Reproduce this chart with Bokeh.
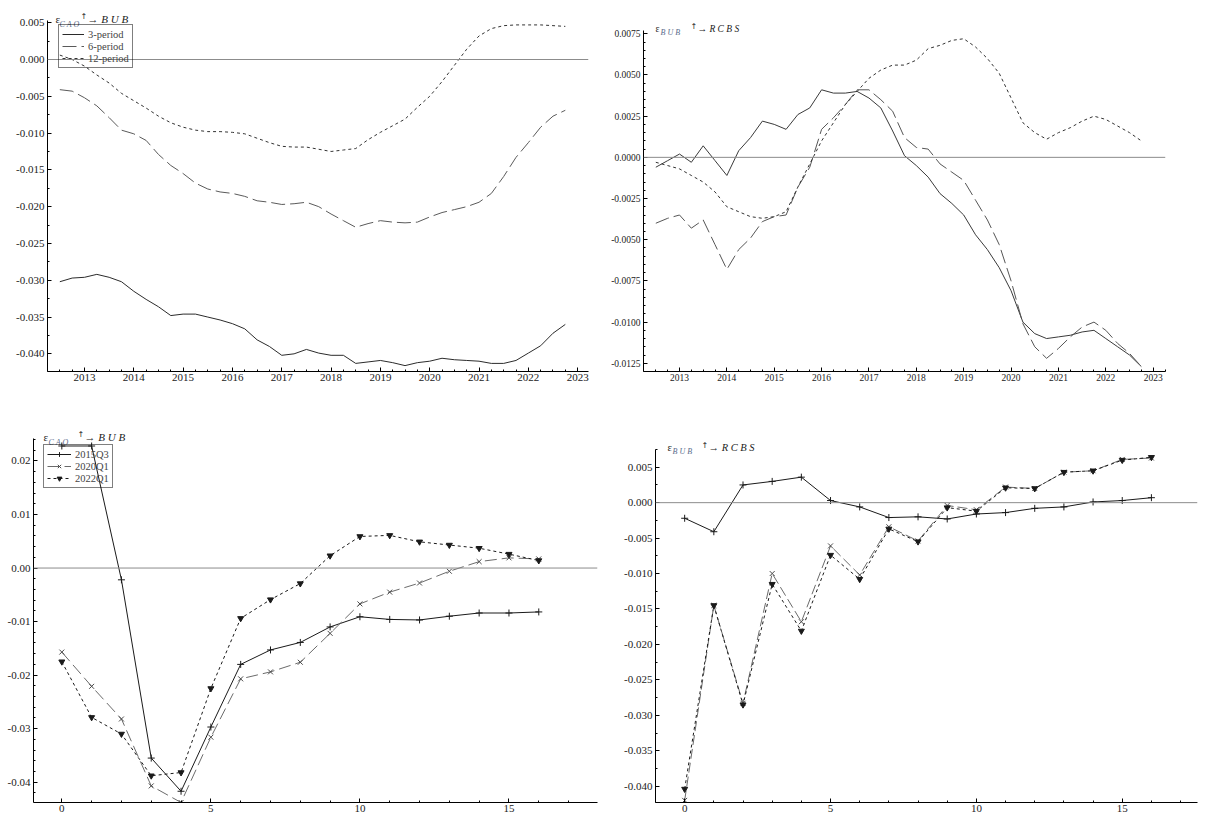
from bokeh.plotting import figure
from bokeh.models import (Range1d, SingleIntervalTicker, PrintfTickFormatter,
                          Span, Label)
from bokeh.layouts import column, row
from bokeh.embed import file_html
from bokeh.resources import INLINE

# ---------------- data ----------------
quarters = [2012.5 + 0.25 * i for i in range(42)]   # 2012Q3 .. 2022Q4

cao_3 = [-0.0302, -0.0297,
         -0.0296, -0.0292, -0.0296, -0.0302,
         -0.0315, -0.0326, -0.0336, -0.0348,
         -0.0346, -0.0346, -0.0350, -0.0354,
         -0.0359, -0.0366, -0.0381, -0.0390,
         -0.0402, -0.0400, -0.0394, -0.0399,
         -0.0402, -0.0402, -0.0413, -0.0411,
         -0.0409, -0.0412, -0.0416, -0.0412,
         -0.0410, -0.0406, -0.0408, -0.0409,
         -0.0410, -0.0413, -0.0413, -0.0409,
         -0.0399, -0.0389, -0.0372, -0.0360]
cao_6 = [-0.0041, -0.0043,
         -0.0052, -0.0063, -0.0079, -0.0096,
         -0.0101, -0.0110, -0.0129, -0.0144,
         -0.0155, -0.0168, -0.0176, -0.0180,
         -0.0182, -0.0186, -0.0192, -0.0194,
         -0.0197, -0.0196, -0.0194, -0.0200,
         -0.0210, -0.0219, -0.0228, -0.0223,
         -0.0219, -0.0221, -0.0222, -0.0221,
         -0.0214, -0.0208, -0.0204, -0.0200,
         -0.0194, -0.0182, -0.0159, -0.0133,
         -0.0113, -0.0092, -0.0077, -0.0069]
cao_12 = [0.0006, 0.0000,
          -0.0009, -0.0021, -0.0032, -0.0046,
          -0.0056, -0.0066, -0.0077, -0.0086,
          -0.0092, -0.0096, -0.0098, -0.0098,
          -0.0099, -0.0101, -0.0107, -0.0113,
          -0.0118, -0.0119, -0.0119, -0.0122,
          -0.0125, -0.0123, -0.0121, -0.0109,
          -0.0099, -0.0090, -0.0081, -0.0065,
          -0.0050, -0.0030, -0.0008, 0.0014,
          0.0032, 0.0042, 0.0046, 0.0047,
          0.0047, 0.0047, 0.0046, 0.0045]

bub_3 = [-0.0006, -0.0002,
         0.0002, -0.0003, 0.0007, -0.0002,
         -0.0011, 0.0004, 0.0012, 0.0022,
         0.0020, 0.0017, 0.0026, 0.0030,
         0.0041, 0.0039, 0.0039, 0.0040,
         0.0036, 0.0030, 0.0016, 0.0001,
         -0.0005, -0.0012, -0.0022, -0.0028,
         -0.0035, -0.0047, -0.0056, -0.0067,
         -0.0081, -0.0100, -0.0107, -0.0110,
         -0.0109, -0.0108, -0.0106, -0.0105,
         -0.0110, -0.0115, -0.0120, -0.0127]
bub_6 = [-0.0040, -0.0037,
         -0.0035, -0.0043, -0.0038, -0.0053,
         -0.0068, -0.0056, -0.0049, -0.0039,
         -0.0036, -0.0035, -0.0018, -0.0006,
         0.0017, 0.0024, 0.0032, 0.0041,
         0.0041, 0.0035, 0.0028, 0.0012,
         0.0006, 0.0005, -0.0004, -0.0009,
         -0.0014, -0.0026, -0.0038, -0.0053,
         -0.0075, -0.0101, -0.0115, -0.0122,
         -0.0116, -0.0109, -0.0103, -0.0100,
         -0.0105, -0.0113, -0.0119, -0.0127]
bub_12 = [-0.0003, -0.0005,
          -0.0007, -0.0011, -0.0015, -0.0021,
          -0.0030, -0.0033, -0.0036, -0.0037,
          -0.0036, -0.0033, -0.0018, -0.0004,
          0.0010, 0.0021, 0.0032, 0.0040,
          0.0048, 0.0053, 0.0056, 0.0056,
          0.0059, 0.0066, 0.0068, 0.0071,
          0.0072, 0.0067, 0.0060, 0.0051,
          0.0036, 0.0021, 0.0015, 0.0011,
          0.0015, 0.0018, 0.0022, 0.0025,
          0.0023, 0.0019, 0.0015, 0.0010]

horizon = list(range(17))
cao_2015Q3 = [0.0228, 0.0228, -0.0022, -0.0355, -0.0417, -0.0297, -0.0180, -0.0153,
              -0.0139, -0.0110, -0.0091, -0.0096, -0.0097, -0.0090, -0.0084, -0.0084, -0.0082]
cao_2020Q1 = [-0.0157, -0.0221, -0.0282, -0.0407, -0.0438, -0.0316, -0.0207, -0.0194,
              -0.0176, -0.0122, -0.0067, -0.0045, -0.0028, -0.0006, 0.0012, 0.0019, 0.0017]
cao_2022Q1 = [-0.0175, -0.0279, -0.0310, -0.0388, -0.0382, -0.0225, -0.0094, -0.0059,
              -0.0029, 0.0023, 0.0059, 0.0061, 0.0049, 0.0043, 0.0037, 0.0026, 0.0014]

bub_2015Q3 = [-0.0022, -0.0041, 0.0025, 0.0030, 0.0036, 0.0003, -0.0006, -0.0021,
              -0.0020, -0.0023, -0.0016, -0.0014, -0.0008, -0.0006, 0.0001, 0.0003, 0.0007]
bub_2020Q1 = [-0.0420, -0.0145, -0.0283, -0.0100, -0.0168, -0.0061, -0.0102, -0.0034,
              -0.0054, -0.0004, -0.0010, 0.0022, 0.0020, 0.0043, 0.0045, 0.0061, 0.0063]
bub_2022Q1 = [-0.0404, -0.0145, -0.0285, -0.0115, -0.0181, -0.0074, -0.0108, -0.0037,
              -0.0055, -0.0007, -0.0012, 0.0021, 0.0020, 0.0043, 0.0045, 0.0060, 0.0064]

period_labels = ["3-period", "6-period", "12-period"]
date_labels = ["2015Q3", "2020Q1", "2022Q1"]

SERIF = "Liberation Serif"


def make_fig(width, height, mbl, mbr, mbt, mbb, xr, yr, extra_px,
             xint, xminor, yint, yminor, xfmt, yfmt, fsize):
    # frame is taller than the y axis by extra_px at the top (room for the title)
    axis_px = height - mbt - mbb - extra_px
    y_top = yr[1] + (yr[1] - yr[0]) * extra_px / axis_px
    p = figure(width=width, height=height, x_range=Range1d(*xr),
               y_range=Range1d(yr[0], y_top),
               output_backend="svg", toolbar_location=None,
               min_border_left=mbl, min_border_right=mbr,
               min_border_top=mbt, min_border_bottom=mbb)
    p.grid.visible = False
    p.outline_line_color = None
    p.xaxis.ticker = SingleIntervalTicker(interval=xint, num_minor_ticks=xminor)
    p.yaxis.ticker = SingleIntervalTicker(interval=yint, num_minor_ticks=yminor)
    p.xaxis.formatter = PrintfTickFormatter(format=xfmt)
    p.yaxis.formatter = PrintfTickFormatter(format=yfmt)
    p.yaxis.bounds = (yr[0], yr[1])
    for ax in (p.xaxis[0], p.yaxis[0]):
        ax.axis_line_color = "black"
        ax.axis_line_width = 1
        ax.major_tick_line_color = "black"
        ax.minor_tick_line_color = "black"
        ax.major_tick_in = 4
        ax.major_tick_out = 0
        ax.minor_tick_in = 2
        ax.minor_tick_out = 0
        ax.major_label_text_font = SERIF
        ax.major_label_text_font_size = fsize
        ax.major_label_text_color = "#222222"
        ax.major_label_standoff = 3
    p.xaxis.major_label_standoff = 2
    p.add_layout(Span(location=0, dimension="width", line_color="#8c8c8c", line_width=1))
    return p


def add_title(p, xr, yr, sub, tail, off, fs="11px"):
    # off = (eps_x, eps_dy, sub_x, sub_dy, up_x, up_dy, tail_x, tail_dy)
    x0, y1 = xr[0], yr[1]
    p.add_layout(Label(x=x0, y=y1, x_offset=off[0], y_offset=off[1], text="ε",
                       text_font=SERIF, text_font_size=fs, text_color="#222222",
                       text_baseline="alphabetic"))
    p.add_layout(Label(x=x0, y=y1, x_offset=off[2], y_offset=off[3], text=sub,
                       text_font=SERIF, text_font_size="8px", text_font_style="italic",
                       text_color="#5a6c8c", text_baseline="alphabetic"))
    p.add_layout(Label(x=x0, y=y1, x_offset=off[4], y_offset=off[5], text="↑",
                       text_font="DejaVu Sans", text_font_size="8px", text_color="#222222",
                       text_baseline="alphabetic"))
    p.add_layout(Label(x=x0, y=y1, x_offset=off[6], y_offset=off[7], text=tail,
                       text_font=SERIF, text_font_size=fs, text_font_style="italic",
                       text_color="#222222", text_baseline="alphabetic"))


def style_legend(p, loc, fs="10.5px", gw=22):
    lg = p.legend[0]
    lg.location = loc
    lg.border_line_color = "black"
    lg.border_line_width = 1
    lg.background_fill_alpha = 0
    lg.label_text_font = SERIF
    lg.label_text_font_size = fs
    lg.glyph_width = gw
    lg.glyph_height = 12
    lg.label_height = 12
    lg.spacing = 0
    lg.padding = 3
    lg.label_standoff = 4


# ---------------- panel 1 ----------------
xr1, yr1 = (2012.25, 2023.22), (-0.0424, 0.0053)
p1 = make_fig(602, 413, 47, 14, 5, 42, xr1, yr1, 15, 1, 4, 0.005, 2, "%d", "%.3f", "11px")
p1.line(quarters, cao_3, line_color="#2b2b2b", line_width=1, legend_label=period_labels[0])
p1.line(quarters, cao_6, line_color="#5a5a5a", line_width=1, line_dash="14 5",
        legend_label=period_labels[1])
p1.line(quarters, cao_12, line_color="#333333", line_width=1, line_dash="3 3",
        legend_label=period_labels[2])
style_legend(p1, (11, 303))
add_title(p1, xr1, yr1, "C A O", "→ B U B", (8, 2, 12, -4, 33, 4, 40, 2))

# ---------------- panel 2 ----------------
xr2, yr2 = (2012.24, 2023.26), (-0.0130, 0.0077)
p2 = make_fig(601, 413, 41, 38, 5, 42, xr2, yr2, 25, 1, 4, 0.0025, 5, "%d", "%.4f", "9.5px")
p2.line(quarters, bub_3, line_color="#3a3a3a", line_width=1)
p2.line(quarters, bub_6, line_color="#555555", line_width=1, line_dash="14 5")
p2.line(quarters, bub_12, line_color="#333333", line_width=1, line_dash="3 3")
add_title(p2, xr2, yr2, "B U B", "→ R C B S", (12, 2, 17, -2, 47, 4, 54, 2), fs="9.5px")

# ---------------- panel 3 ----------------
xr3, yr3 = (-0.95, 17.97), (-0.0438, 0.0242)
p3 = make_fig(612, 404, 33, 15, 5, 15, xr3, yr3, 20, 5, 5, 0.01, 5, "%d", "%.2f", "11px")
p3.line(horizon, cao_2015Q3, line_color="#1a1a1a", line_width=1, legend_label=date_labels[0])
p3.scatter(horizon, cao_2015Q3, marker="cross", size=7, line_color="#1a1a1a",
           legend_label=date_labels[0])
p3.line(horizon, cao_2020Q1, line_color="#6b6b6b", line_width=1, line_dash="12 5",
        legend_label=date_labels[1])
p3.scatter(horizon, cao_2020Q1, marker="x", size=7, line_color="#4a4a4a",
           legend_label=date_labels[1])
p3.line(horizon, cao_2022Q1, line_color="#1a1a1a", line_width=1, line_dash="3 3",
        legend_label=date_labels[2])
p3.scatter(horizon, cao_2022Q1, marker="inverted_triangle", size=6, line_color="#1a1a1a",
           fill_color="#1a1a1a", legend_label=date_labels[2])
style_legend(p3, (10, 314), gw=24)
add_title(p3, xr3, yr3, "C A O", "→ B U B", (10, 2, 15, -4, 44, 4, 51, 2))

# ---------------- panel 4 ----------------
xr4, yr4 = (-1.0, 17.58), (-0.0423, 0.0075)
p4 = make_fig(591, 404, 43, 6, 5, 15, xr4, yr4, 31, 5, 5, 0.005, 2, "%d", "%.3f", "11px")
p4.line(horizon, bub_2015Q3, line_color="#1a1a1a", line_width=1)
p4.scatter(horizon, bub_2015Q3, marker="cross", size=7, line_color="#1a1a1a")
p4.line(horizon, bub_2020Q1, line_color="#6b6b6b", line_width=1, line_dash="10 4")
p4.scatter(horizon, bub_2020Q1, marker="x", size=7, line_color="#4a4a4a")
p4.line(horizon, bub_2022Q1, line_color="#1a1a1a", line_width=1, line_dash="3 3")
p4.scatter(horizon, bub_2022Q1, marker="inverted_triangle", size=6, line_color="#1a1a1a",
           fill_color="#1a1a1a")
add_title(p4, xr4, yr4, "B U B", "→ R C B S", (12, 2, 17, -2, 46, 4, 53, 2), fs="10.5px")

layout = column(row(p1, p2), row(p3, p4))
open("out.html", "w").write(file_html(layout, INLINE))
